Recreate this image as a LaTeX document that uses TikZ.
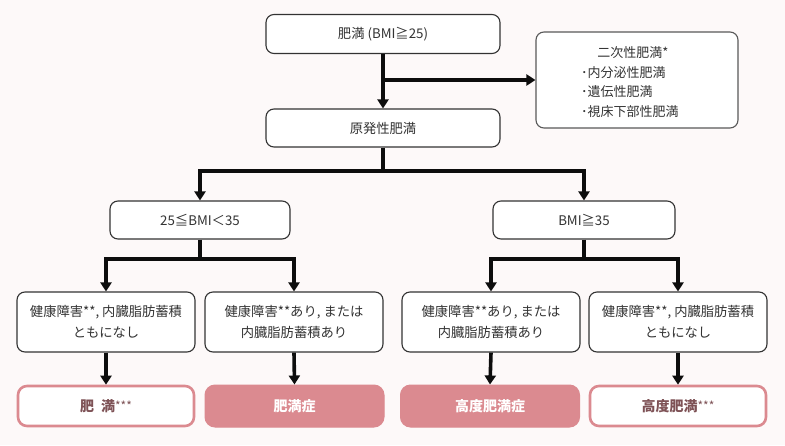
\documentclass[tikz,border=0pt]{standalone}
\usepackage{fontspec}
\setmainfont{Noto Sans CJK JP}
\usetikzlibrary{arrows.meta}
\definecolor{bg}{HTML}{FDF9F9}
\definecolor{pinkc}{HTML}{DB8A90}
\definecolor{txt}{HTML}{333333}
\definecolor{pinktxt}{HTML}{7E5256}
\tikzset{
  box/.style={draw=black!80, line width=1.1pt, rounded corners=8pt, fill=white, align=center, inner sep=2pt, text=txt, font=\fontsize{13.3}{21}\selectfont},
  outbox/.style={draw=pinkc, line width=2.6pt, rounded corners=9pt, fill=white, align=center, text=pinktxt, font=\fontsize{14}{16}\selectfont\bfseries, minimum width=176pt, minimum height=40pt},
  fillbox/.style={draw=pinkc, fill=pinkc, line width=1pt, rounded corners=10pt, align=center, text=white, font=\fontsize{14}{16}\selectfont\bfseries, minimum width=179pt, minimum height=42pt},
  conn/.style={line width=3.6pt, draw=black!95},
  arr/.style={conn, -{Triangle[width=11pt,length=9pt]}}
}
\newcommand{\mystars}{\raisebox{1pt}{\normalfont\fontsize{12}{12}\selectfont ***}}
\begin{document}
\begin{tikzpicture}[x=1pt,y=-1pt]
\fill[bg] (0,0) rectangle (785,445);
\useasboundingbox (0,0) rectangle (785,445);
\node[box, minimum width=234pt, minimum height=39pt] (top) at (383,34) {肥満 (BMI≧25)};
\node[box, minimum width=234pt, minimum height=38pt] (prim) at (383,128) {原発性肥満};
\node[box, draw=black!65, minimum width=202pt, minimum height=96pt] (sec) at (637,80) {};
\node[text=txt, font=\fontsize{13}{15}\selectfont, anchor=base] (sect) at (633,57) {二次性肥満*};
\node[text=txt, font=\fontsize{13}{19.5}\selectfont, align=left, anchor=north west, inner sep=0pt] (secl) at (581,66) {･内分泌性肥満\\･遺伝性肥満\\･視床下部性肥満};
\node[box, minimum width=180pt, minimum height=38pt] (lo) at (200,220) {25≦BMI＜35};
\node[box, minimum width=182pt, minimum height=38pt] (hi) at (584,220) {BMI≧35};
\node[box, minimum width=178pt, minimum height=60pt] (a) at (106,322) {健康障害**, 内臓脂肪蓄積\\ともになし};
\node[box, minimum width=178pt, minimum height=60pt] (b) at (294,322) {健康障害**あり, または\\内臓脂肪蓄積あり};
\node[box, minimum width=178pt, minimum height=60pt] (c) at (491,322) {健康障害**あり, または\\内臓脂肪蓄積あり};
\node[box, minimum width=178pt, minimum height=60pt] (d) at (678,322) {健康障害**, 内臓脂肪蓄積\\ともになし};
\node[outbox] (ra) at (106,406) {肥\hspace{0.5em}満\mystars};
\node[fillbox] (rb) at (294.5,406) {肥満症};
\node[fillbox] (rc) at (490,406) {高度肥満症};
\node[outbox] (rd) at (678,406) {高度肥満\mystars};
\coordinate (j1) at (383,80);
\coordinate (j2) at (383,171);
\coordinate (j3) at (200,259);
\coordinate (j4) at (584,259);
\draw[arr] (top.south) -- (prim.north);
\draw[arr] (j1) -- (sec.west);
\draw[conn] (prim.south) -- (j2);
\draw[arr] (j2) -| (lo.north);
\draw[arr] (j2) -| (hi.north);
\draw[conn] (lo.south) -- (j3);
\draw[arr] (j3) -| (a.north);
\draw[arr] (j3) -| (b.north);
\draw[conn] (hi.south) -- (j4);
\draw[arr] (j4) -| (c.north);
\draw[arr] (j4) -| (d.north);
\draw[arr] (a.south) -- (ra.north);
\draw[arr] (b.south) -- (rb.north);
\draw[arr] (c.south) -- (rc.north);
\draw[arr] (d.south) -- (rd.north);
\end{tikzpicture}
\end{document}
